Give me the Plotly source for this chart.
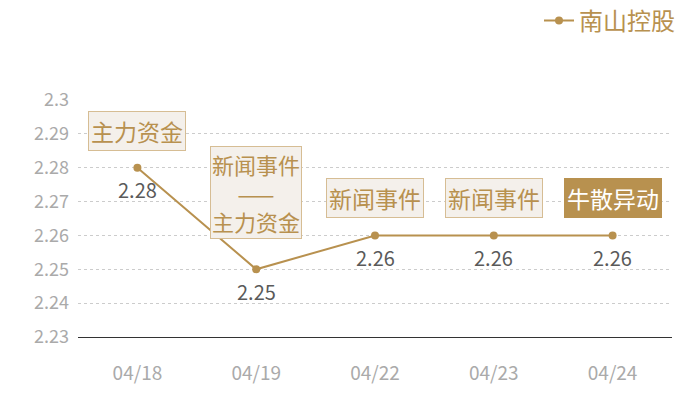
import plotly.graph_objects as go

# data
dates = ["04/18", "04/19", "04/22", "04/23", "04/24"]
prices = [2.28, 2.25, 2.26, 2.26, 2.26]
events = [["主力资金"], ["新闻事件", "主力资金"], ["新闻事件"], ["新闻事件"], ["牛散异动"]]
highlight = [False, False, False, False, True]
y_ticks = [2.23, 2.24, 2.25, 2.26, 2.27, 2.28, 2.29, 2.3]

GOLD = "#b8914f"
FONT = "Noto Sans CJK SC"

fig = go.Figure()
fig.add_trace(go.Scatter(
    x=dates, y=prices, name="南山控股",
    mode="lines+markers",
    line=dict(color=GOLD, width=2),
    marker=dict(color=GOLD, size=8),
))

for d, p, ev, hl in zip(dates, prices, events, highlight):
    multi = len(ev) > 1
    # value label under the point
    fig.add_annotation(
        x=d, y=p, text=f"{p:.2f}", showarrow=False,
        yanchor="middle", yshift=-22,
        font=dict(size=20, color="#5a5a5a", family=FONT),
    )
    # event box above the point
    fig.add_annotation(
        x=d, y=p,
        text="<br>——<br>".join(ev),
        showarrow=False, yanchor="bottom",
        yshift=30 if multi else 17,
        font=dict(size=22 if multi else 23, color="white" if hl else GOLD, family=FONT),
        bgcolor=GOLD if hl else "#f4f0eb",
        bordercolor=GOLD if hl else "#d6bd94",
        borderwidth=1, borderpad=1 if multi else 2,
    )

fig.update_layout(
    width=700, height=400,
    margin=dict(l=70, r=36, t=92, b=71),
    paper_bgcolor="white", plot_bgcolor="white",
    font=dict(family=FONT),
    showlegend=True,
    legend=dict(xref="container", yref="container", x=0.96, xanchor="right",
                y=0.968, yanchor="middle", orientation="h",
                font=dict(size=24, color=GOLD)),
)
fig.update_xaxes(
    type="category", range=[-0.5, 4.5], automargin=False,
    showgrid=False, showline=True, linecolor="#333333", linewidth=1,
    ticks="", ticklabelstandoff=19,
    tickfont=dict(size=19, color="#aaaaaa"),
)
fig.update_yaxes(
    range=[2.23, 2.3], tickvals=y_ticks, ticktext=[f"{v:g}" for v in y_ticks],
    automargin=False,
    showgrid=True, gridcolor="#cccccc", griddash="dot", zeroline=False,
    showline=False, ticklabelstandoff=8,
    tickfont=dict(size=18, color="#aaaaaa"),
)

fig.write_html("out.html")
